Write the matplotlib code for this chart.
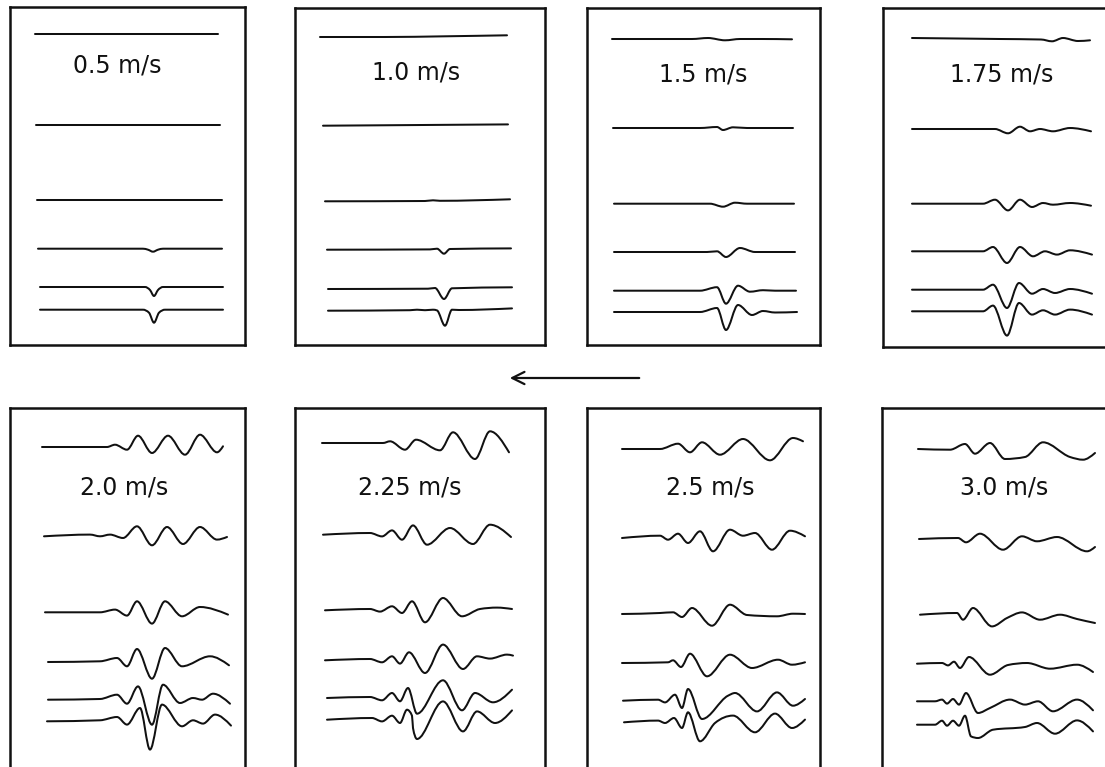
import numpy as np
import matplotlib
matplotlib.use("Agg")
import matplotlib.pyplot as plt
from matplotlib.path import Path
from matplotlib.patches import PathPatch

# wave records for each flow speed: six traces per panel, top to bottom
# each trace is a list of (time, amplitude) readings
speeds = ["0.5 m/s", "1.0 m/s", "1.5 m/s", "1.75 m/s",
          "2.0 m/s", "2.25 m/s", "2.5 m/s", "3.0 m/s"]

v050 = [
    [(25, 0), (208, 0)],
    [(26, 0), (210, 0)],
    [(27, 0), (212, 0)],
    [(28, 0), (133, 0), (138, -1), (143, -3), (148, -1), (153, 0), (212, 0)],
    [(30, 0), (135, 0), (140, -3), (144, -9), (148, -3), (153, 0), (213, 0)],
    [(30, 0), (133, 0), (139, -3), (144, -13), (149, -3), (155, 0), (213, 0)],
]
v100 = [
    [(25, 0), (90, 0), (150, 0.7), (212, 1.7)],
    [(28, 0), (213, 1.3)],
    [(30, 0), (130, 0.3), (138, 1), (145, 0.5), (215, 2)],
    [(32, 0), (135, 0.3), (142, 1), (149, -4), (155, 0.7), (216, 1.3)],
    [(33, 0), (133, 0.3), (140, 1), (149, -10), (157, 0.7), (217, 1.7)],
    [(33, 0), (115, 0.5), (122, 1), (130, 0.5), (138, 1), (142, 0.3), (150, -15), (157, 1), (164, 0.7), (217, 2.3)],
]
v150 = [
    [(25, 0), (105, 0), (121, 1), (138, -1.3), (153, 0), (175, 0), (205, -0.3)],
    [(26, 0), (113, 0), (130, 1), (136, -2), (146, 0.7), (160, 0), (206, 0)],
    [(27, 0), (123, 0), (136, -3), (148, 1), (160, 0), (207, 0)],
    [(27, 0), (120, 0), (130, 0.7), (139, -5), (153, 4), (168, 0), (208, 0)],
    [(27, 0), (113, 0), (130, 3.5), (139, -13), (151, 5), (163, -1), (176, 0.5), (188, 0), (209, 0)],
    [(27, 0), (113, 0), (130, 4), (139, -18), (151, 7), (165, -3), (176, 1), (188, -0.5), (210, 0)],
]
v175 = [
    [(29, 0), (117, -1), (158, -1.5), (169, -3.3), (180, 0), (195, -3), (207, -2.3)],
    [(29, 0), (112, 0), (125, -4.3), (137, 2.3), (147, -2.3), (157, 0), (170, -2.3), (187, 1), (208, -2.3)],
    [(29, 0), (100, 0), (112, 4), (125, -6.7), (137, 4), (149, -3.3), (160, 0.7), (170, -1), (187, 0.7), (208, -2)],
    [(29, 0), (100, 0), (110, 4.3), (124, -11.7), (137, 4.3), (150, -5), (162, 0), (174, -3.3), (187, 1), (209, -3.3)],
    [(29, 0), (100, 0), (110, 5), (124, -18.3), (136, 6.7), (149, -4), (160, 0.7), (172, -3.3), (187, 0.7), (209, -4)],
    [(29, 0), (100, 0), (110, 5.7), (124, -24.3), (136, 8.3), (149, -3.3), (160, 1), (172, -3.3), (187, 1.7), (209, -3.3)],
]
v200 = [
    [(32, 0), (97, 0), (105, 2.3), (117, -2.7), (128, 11.3), (142, -6), (158, 11.3), (175, -7.7), (190, 12.3), (207, -5.3), (213, 0.7)],
    [(34, 0), (80, 1.7), (90, 0), (100, 1.7), (113, -1.7), (127, 10), (142, -9), (157, 9.3), (173, -7.7), (190, 9.3), (207, -3.3), (217, -0.7)],
    [(35, 0), (90, 0), (105, 2.7), (117, -3.3), (127, 11), (142, -11.3), (155, 11), (172, -4), (190, 5.3), (218, -2.3)],
    [(38, 0), (90, 0.7), (107, 4), (117, -4.3), (127, 13), (142, -16.7), (155, 14), (172, -4.3), (200, 5.7), (219, -3.3)],
    [(38, 0), (90, 0.7), (107, 5), (117, -4), (128, 13.3), (142, -25), (153, 15), (170, -3.3), (183, 1.7), (192, 0), (203, 6), (220, -4)],
    [(37, 0), (90, 1), (107, 4.3), (117, -3.3), (130, 13.3), (140, -28.3), (152, 16.7), (172, -5), (183, 1), (193, -2.3), (205, 6.7), (221, -4.3)],
]
v225 = [
    [(27, 0), (88, 0), (95, 1.7), (110, -6.7), (121, 3.3), (145, -7.3), (158, 10.7), (180, -16), (195, 11.7), (214, -9.3)],
    [(28, 0), (75, 1.7), (87, -1.7), (97, 4.3), (107, -5), (118, 9.3), (132, -10), (155, 6.7), (178, -9.3), (195, 10), (216, -2.3)],
    [(30, 0), (75, 1.3), (85, -1.3), (97, 4), (107, -2.7), (117, 9), (130, -12), (148, 12.3), (167, -6), (185, 1.3), (202, 2.7), (217, 1.3)],
    [(30, 0), (75, 1.3), (87, -2), (97, 4), (105, -3.3), (114, 8), (130, -12.7), (148, 15.7), (168, -8.7), (182, 4), (195, 1.7), (212, 5.7), (218, 4.7)],
    [(32, 0), (75, 1), (87, -2.3), (97, 5), (105, -3.3), (113, 10), (122, -15.7), (148, 17.7), (167, -12.3), (180, 5), (198, -4.3), (217, 8.3)],
    [(32, 0), (77, 1.7), (87, -1.7), (97, 4), (105, -3.3), (112, 10), (117, 4), (118, -8.3), (122, -19.3), (148, 18.3), (168, -11.7), (182, 8.3), (200, -3.3), (217, 9.3)],
]
v250 = [
    [(35, 0), (73, 0), (91, 5.3), (103, -3.3), (115, 6.7), (133, -5.7), (156, 10), (183, -11.3), (206, 11), (216, 7.7)],
    [(35, 0), (73, 2.3), (81, -1.7), (91, 4.3), (101, -5), (113, 6.7), (126, -13.3), (143, 8.3), (156, 2.3), (168, 5), (185, -11.7), (203, 7.3), (218, 1.7)],
    [(35, 0), (73, 1), (86, 1.7), (95, -3), (105, 6), (125, -11.7), (143, 9.3), (160, -1), (190, -2.3), (206, 0.3), (218, 0)],
    [(35, 0), (81, 0.7), (86, 2.7), (94, -4), (103, 9.3), (120, -13.3), (143, 8.3), (165, -5), (191, 3.3), (205, -1.7), (218, 0.7)],
    [(36, 0), (71, 1), (78, -1.7), (88, 6), (95, -7.3), (101, 11.7), (115, -18.3), (141, 5), (148, 7.7), (170, -10.7), (190, 8.3), (206, -5), (218, 1.7)],
    [(37, 0), (71, 1.7), (78, -0.7), (87, 4.3), (95, -5.7), (101, 10), (113, -19), (128, -0.7), (146, 6.7), (168, -10), (188, 8.7), (205, -5.7), (218, 2.7)],
]
v300 = [
    [(36, 0), (68, -0.7), (83, 5), (93, -4.7), (108, 6), (123, -10), (143, -8), (161, 6.7), (188, -8), (201, -10.7), (213, -4)],
    [(37, 0), (76, 1), (84, -3.3), (98, 5.3), (121, -10.7), (140, 2.7), (155, -2.3), (175, 2), (205, -12.3), (213, -8)],
    [(38, 0), (75, 1.7), (81, -5), (91, 6.7), (110, -11.7), (125, -3.3), (140, 2.3), (158, -5), (178, 0), (195, -4.3), (213, -8.3)],
    [(35, 0), (60, 0.7), (66, -1.7), (72, 2), (78, -4.3), (87, 6.7), (108, -11), (126, -1.3), (145, 0.7), (168, -5), (195, -1), (211, -8.3)],
    [(35, 0), (53, 0), (60, 1.7), (65, -2.3), (71, 2.3), (77, -3.3), (84, 8.3), (96, -11.7), (108, -6.7), (128, 1.7), (143, -3.3), (156, 0), (171, -10), (195, 1.7), (211, -9)],
    [(35, 0), (53, 0), (60, 4), (65, -1), (71, 4), (77, -1), (83, 9), (89, -11.7), (96, -13.3), (111, -5), (143, -2.3), (155, 1.7), (173, -9), (195, 4.3), (211, -6.7)],
]
records = [v050, v100, v150, v175, v200, v225, v250, v300]

# panel frames in pixels: left, top, width, height
W, H = 1105, 767
frames = [(10, 7, 235, 338), (295, 8, 250, 337), (587, 8, 233, 337), (883, 8, 242, 339),
          (10, 408, 235, 380), (295, 408, 250, 380), (587, 408, 233, 380), (882, 408, 243, 380)]
baselines = [
    [27, 117.7, 192.7, 241.7, 280, 302.7],
    [29, 117.7, 193.3, 241.7, 281, 302.7],
    [31, 120, 195.7, 244, 282.7, 304],
    [30, 121, 195.7, 243.3, 281.7, 303.3],
    [39, 128.3, 204.3, 254, 291.7, 313.3],
    [35, 126.7, 202.3, 252.3, 290, 311.7],
    [41, 130, 206, 255, 292.7, 314.3],
    [41, 131, 206.7, 255.7, 293.3, 316.7],
]
label_pos = [(107, 58), (121, 65), (116, 67), (119, 67),
             (114, 80), (115, 80), (123, 80), (122, 80)]


def smooth_path(x, y):
    # monotone cubic through the readings (same idea as d3 curveMonotoneX)
    x = np.asarray(x, float)
    y = np.asarray(y, float)
    n = len(x)
    if n == 2:
        return Path(np.column_stack([x, y]), [Path.MOVETO, Path.LINETO])
    h = np.diff(x)
    s = np.diff(y) / h
    m = np.zeros(n)
    for i in range(1, n - 1):
        p = (s[i - 1] * h[i] + s[i] * h[i - 1]) / (h[i - 1] + h[i])
        m[i] = (np.sign(s[i - 1]) + np.sign(s[i])) * min(abs(s[i - 1]), abs(s[i]), 0.5 * abs(p))
    m[0] = (3 * s[0] - m[1]) / 2
    m[-1] = (3 * s[-1] - m[-2]) / 2
    verts = [(x[0], y[0])]
    codes = [Path.MOVETO]
    for i in range(n - 1):
        d = h[i] / 3
        verts += [(x[i] + d, y[i] + d * m[i]), (x[i + 1] - d, y[i + 1] - d * m[i + 1]), (x[i + 1], y[i + 1])]
        codes += [Path.CURVE4] * 3
    return Path(verts, codes)


fig = plt.figure(figsize=(W / 100, H / 100), dpi=100)
fig.patch.set_facecolor("white")

for k, (left, top, w, h) in enumerate(frames):
    ax = fig.add_axes([left / W, 1 - (top + h) / H, w / W, h / H])
    ax.set_xlim(0, w)
    ax.set_ylim(h, 0)
    ax.set_xticks([])
    ax.set_yticks([])
    for sp in ax.spines.values():
        sp.set_linewidth(1.8)
        sp.set_color("#111111")
    for trace, base in zip(records[k], baselines[k]):
        t = [p[0] for p in trace]
        a = [base - p[1] for p in trace]
        ax.add_patch(PathPatch(smooth_path(t, a), fill=False, lw=1.45,
                               edgecolor="#111111", capstyle="round", joinstyle="round"))
    lx, ly = label_pos[k]
    ax.text(lx, ly, speeds[k], ha="center", va="center", fontsize=17,
            family="DejaVu Sans", color="#111111")

# direction arrow between the two rows
over = fig.add_axes([0, 0, 1, 1])
over.set_xlim(0, W)
over.set_ylim(H, 0)
over.axis("off")
over.annotate("", xy=(507, 378), xytext=(642, 378),
              arrowprops=dict(arrowstyle="->", lw=1.6, color="#111111", mutation_scale=22))

fig.savefig("out.png", dpi=100)
